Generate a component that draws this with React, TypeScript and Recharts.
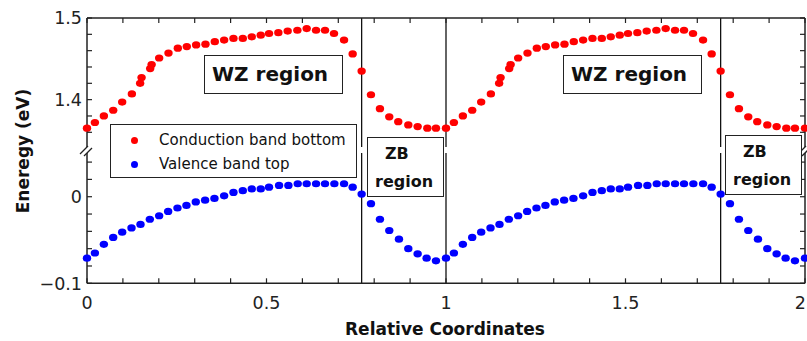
import { ScatterChart, Scatter, XAxis, YAxis, ReferenceLine } from 'recharts'

// one period (0..1) of the band edges
const CB_X = [0, 0.022, 0.047, 0.073, 0.098, 0.125, 0.148, 0.152, 0.176, 0.18, 0.201, 0.227, 0.253, 0.278, 0.304, 0.33, 0.356, 0.382, 0.408, 0.434, 0.459, 0.484, 0.507, 0.533, 0.559, 0.586, 0.612, 0.638, 0.663, 0.688, 0.716, 0.74, 0.765, 0.791, 0.816, 0.842, 0.867, 0.895, 0.921, 0.948, 0.972]
const CB_E = [1.365, 1.372, 1.38, 1.387, 1.397, 1.407, 1.42, 1.427, 1.438, 1.443, 1.451, 1.457, 1.463, 1.465, 1.467, 1.468, 1.471, 1.473, 1.475, 1.475, 1.477, 1.479, 1.481, 1.482, 1.484, 1.485, 1.487, 1.485, 1.485, 1.481, 1.473, 1.456, 1.435, 1.406, 1.389, 1.379, 1.373, 1.369, 1.367, 1.365, 1.365]

const VB_X = [0, 0.022, 0.047, 0.073, 0.098, 0.124, 0.149, 0.175, 0.201, 0.226, 0.252, 0.277, 0.303, 0.329, 0.355, 0.382, 0.408, 0.434, 0.459, 0.484, 0.507, 0.535, 0.561, 0.587, 0.612, 0.638, 0.663, 0.689, 0.716, 0.74, 0.765, 0.791, 0.816, 0.842, 0.869, 0.895, 0.921, 0.946, 0.972]
const VB_E = [-0.071, -0.065, -0.055, -0.047, -0.041, -0.036, -0.032, -0.026, -0.022, -0.017, -0.013, -0.01, -0.006, -0.004, -0.002, 0.001, 0.005, 0.007, 0.009, 0.009, 0.011, 0.013, 0.013, 0.015, 0.015, 0.015, 0.015, 0.015, 0.015, 0.011, 0.003, -0.008, -0.026, -0.039, -0.049, -0.06, -0.066, -0.071, -0.074]

// WZ/ZB interfaces and the cell boundary
const BOUNDARIES = [0.765, 1, 1.765]

const X_TICKS = [0, 0.1, 0.2, 0.3, 0.4, 0.5, 0.6, 0.7, 0.8, 0.9, 1, 1.1, 1.2, 1.3, 1.4, 1.5, 1.6, 1.7, 1.8, 1.9, 2]
const X_LABELS: Record<number, string> = { 0: '0', 0.5: '0.5', 1: '1', 1.5: '1.5', 2: '2' }
const UP_TICKS = [1.36, 1.38, 1.4, 1.42, 1.44, 1.46, 1.48, 1.5]
const LOW_TICKS = [-0.1, -0.08, -0.06, -0.04, -0.02, 0, 0.02, 0.04]
const Y_LABELS: Record<number, string> = { 1.5: '1.5', 1.4: '1.4', 0: '0', [-0.1]: '\u22120.1' }

const UP_DOMAIN = [1.342, 1.5]
const LOW_DOMAIN = [-0.1, 0.0505]

// the picture repeats the same period twice
function twoPeriods(xs: number[], es: number[]) {
  const a = xs.map((x, i) => ({ x, e: es[i] }))
  const b = xs.map((x, i) => ({ x: x + 1, e: es[i] }))
  return [...a, ...b, { x: 2, e: es[0] }]
}
const cbData = twoPeriods(CB_X, CB_E)
const vbData = twoPeriods(VB_X, VB_E)

const FONT = '"DejaVu Sans", Verdana, sans-serif'
const AXIS = '#222'
const RED = '#ff0000'
const BLUE = '#0000ff'

const axisLine = { stroke: AXIS, strokeWidth: 1.5 }

function Dot(color: string) {
  return (p: any) => <ellipse cx={p.cx} cy={p.cy} rx={4.2} ry={3.6} fill={color} />
}

function LeftTick(p: any) {
  const label = Y_LABELS[p.payload.value]
  return (
    <g>
      <line x1={p.x} y1={p.y} x2={p.x + 5} y2={p.y} stroke={AXIS} strokeWidth={1.2} />
      {label && (
        <text x={p.x - 5} y={p.y} dy="0.36em" textAnchor="end" fontSize={17.5} fontFamily={FONT} fill="#222">
          {label}
        </text>
      )}
    </g>
  )
}

function RightTick(p: any) {
  return <line x1={p.x} y1={p.y} x2={p.x - 5} y2={p.y} stroke={AXIS} strokeWidth={1.2} />
}

function TopTick(p: any) {
  return <line x1={p.x} y1={p.y} x2={p.x} y2={p.y + 5} stroke={AXIS} strokeWidth={1.2} />
}

function BottomTick(p: any) {
  const label = X_LABELS[p.payload.value]
  // the last label sits at the window edge; keep it inside
  const last = p.payload.value === 2
  return (
    <g>
      <line x1={p.x} y1={p.y} x2={p.x} y2={p.y - 5} stroke={AXIS} strokeWidth={1.2} />
      {label && (
        <text x={last ? p.x + 1 : p.x} y={p.y + 26} textAnchor={last ? 'end' : 'middle'} fontSize={17.5} fontFamily={FONT} fill="#222">
          {label}
        </text>
      )}
    </g>
  )
}

const boxStyle: React.CSSProperties = {
  position: 'absolute',
  boxSizing: 'border-box',
  border: '1.4px solid #222',
  background: '#fff',
  fontFamily: FONT,
  color: '#111',
}

function WzBox({ left }: { left: number }) {
  return (
    <div style={{ ...boxStyle, left, top: 55, width: 139, height: 39, fontSize: 20, fontWeight: 'bold', lineHeight: '37px', paddingLeft: 7 }}>
      WZ region
    </div>
  )
}

function ZbBox({ left, top }: { left: number; top: number }) {
  return (
    <div style={{ ...boxStyle, left, top, width: 77, height: 60, fontSize: 16, fontWeight: 'bold' }}>
      <div style={{ position: 'absolute', left: 17, top: 6 }}>ZB</div>
      <div style={{ position: 'absolute', left: 7, top: 34 }}>region</div>
    </div>
  )
}

function BreakMark({ x, y }: { x: number; y: number }) {
  return (
    <g stroke={AXIS} strokeWidth={1.3}>
      <line x1={x - 7} y1={y + 3} x2={x + 1} y2={y - 5} />
      <line x1={x - 3} y1={y + 5} x2={x + 5} y2={y - 3} />
    </g>
  )
}

// axes are 1px thick (Recharts skips zero-sized axes), margins make up the rest
const axisCommon = { tickSize: 0, tickMargin: 0, tickLine: false, axisLine, interval: 0 as const }

export default function App() {
  return (
    <div style={{ position: 'absolute', left: 0, top: 0, width: 807, height: 341, background: '#fff' }}>
      {/* upper part: conduction band */}
      <div style={{ position: 'absolute', left: 0, top: 0 }}>
        <ScatterChart width={807} height={341} margin={{ top: 17, right: 1, bottom: 194, left: 86 }}>
          <XAxis type="number" dataKey="x" orientation="top" domain={[0, 2]} ticks={X_TICKS} height={1}
            {...axisCommon} tick={(p: any) => <TopTick {...p} />} />
          <YAxis type="number" dataKey="e" domain={UP_DOMAIN} allowDataOverflow ticks={UP_TICKS} width={1}
            {...axisCommon} tick={(p: any) => <LeftTick {...p} />} />
          <YAxis yAxisId="r" orientation="right" type="number" domain={UP_DOMAIN} allowDataOverflow ticks={UP_TICKS} width={1}
            {...axisCommon} tick={(p: any) => <RightTick {...p} />} />
          {BOUNDARIES.map((b) => (
            <ReferenceLine key={b} x={b} stroke="#111" strokeWidth={1.3} />
          ))}
          <Scatter data={cbData} shape={Dot(RED)} isAnimationActive={false} />
        </ScatterChart>
      </div>

      {/* lower part: valence band */}
      <div style={{ position: 'absolute', left: 0, top: 0 }}>
        <ScatterChart width={807} height={341} margin={{ top: 153, right: 1, bottom: 56.7, left: 86 }}>
          <XAxis type="number" dataKey="x" domain={[0, 2]} ticks={X_TICKS} height={1}
            {...axisCommon} tick={(p: any) => <BottomTick {...p} />} />
          <YAxis type="number" dataKey="e" domain={LOW_DOMAIN} allowDataOverflow ticks={LOW_TICKS} width={1}
            {...axisCommon} tick={(p: any) => <LeftTick {...p} />} />
          <YAxis yAxisId="r" orientation="right" type="number" domain={LOW_DOMAIN} allowDataOverflow ticks={LOW_TICKS} width={1}
            {...axisCommon} tick={(p: any) => <RightTick {...p} />} />
          {BOUNDARIES.map((b) => (
            <ReferenceLine key={b} x={b} stroke="#111" strokeWidth={1.3} />
          ))}
          <Scatter data={vbData} shape={Dot(BLUE)} isAnimationActive={false} />
        </ScatterChart>
      </div>

      <svg width={807} height={341} style={{ position: 'absolute', left: 0, top: 0 }}>
        <BreakMark x={87} y={151} />
        <BreakMark x={805} y={151} />
        <text x={445} y={335} textAnchor="middle" fontSize={17} fontWeight="bold" fontFamily={FONT} fill="#111">
          Relative Coordinates
        </text>
        <text transform="translate(29 151) rotate(-90)" textAnchor="middle" fontSize={17} fontWeight="bold" fontFamily={FONT} fill="#111">
          Eneregy (eV)
        </text>
      </svg>

      <WzBox left={204} />
      <WzBox left={563} />
      <ZbBox left={367} top={137} />
      <ZbBox left={725} top={135} />

      {/* legend */}
      <div style={{ ...boxStyle, left: 110, top: 124, width: 247, height: 54, fontSize: 15 }}>
        {[{ name: 'Conduction band bottom', color: RED, top: 6 }, { name: 'Valence band top', color: BLUE, top: 30 }].map((it) => (
          <div key={it.name} style={{ position: 'absolute', left: 0, top: it.top, display: 'flex', alignItems: 'center', whiteSpace: 'nowrap' }}>
            <span style={{ display: 'inline-block', width: 7, height: 7, borderRadius: '50%', background: it.color, marginLeft: 20, marginRight: 21 }} />
            <span>{it.name}</span>
          </div>
        ))}
      </div>
    </div>
  )
}
